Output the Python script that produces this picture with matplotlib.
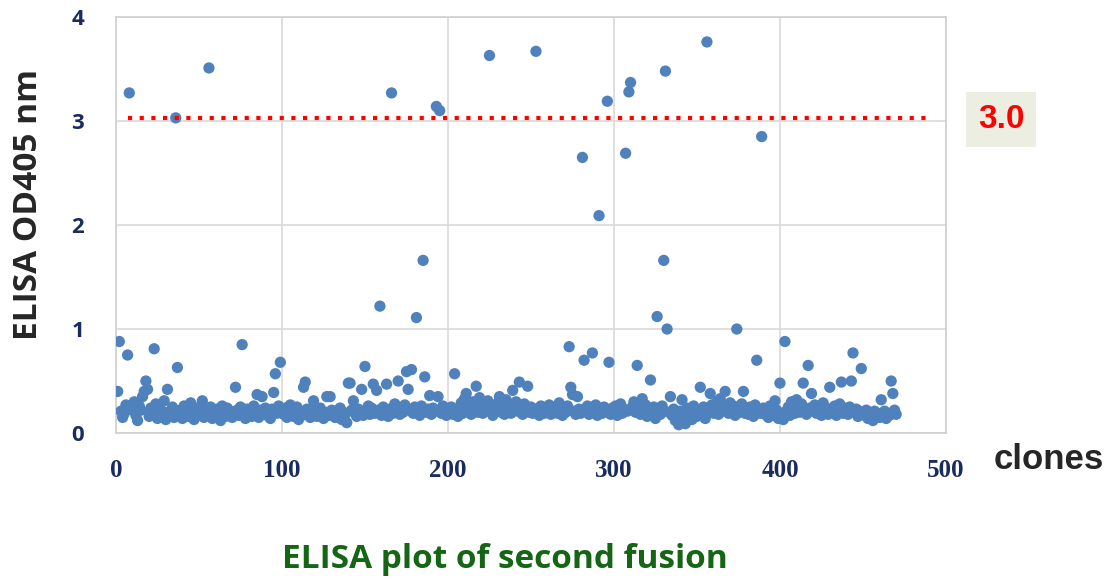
import numpy as np
import matplotlib
matplotlib.use('Agg')
import matplotlib.pyplot as plt

# OD405 readings for clones 1..470 (rows of 10)
od405 = [
    0.40, 0.88, 0.21, 0.15, 0.19, 0.27, 0.75, 3.27, 0.24, 0.22,
    0.30, 0.17, 0.12, 0.26, 0.22, 0.35, 0.40, 0.50, 0.42, 0.16,
    0.24, 0.19, 0.81, 0.28, 0.14, 0.23, 0.18, 0.21, 0.31, 0.13,
    0.42, 0.20, 0.17, 0.25, 0.15, 3.03, 0.63, 0.19, 0.22, 0.14,
    0.26, 0.18, 0.23, 0.16, 0.29, 0.21, 0.13, 0.19, 0.24, 0.17,
    0.20, 0.31, 0.15, 0.22, 0.18, 3.51, 0.25, 0.14, 0.21, 0.17,
    0.23, 0.19, 0.12, 0.26, 0.20, 0.16, 0.24, 0.18, 0.21, 0.15,
    0.19, 0.44, 0.22, 0.17, 0.25, 0.85, 0.20, 0.14, 0.23, 0.18,
    0.21, 0.16, 0.26, 0.19, 0.37, 0.15, 0.22, 0.35, 0.18, 0.24,
    0.17, 0.20, 0.14, 0.23, 0.39, 0.57, 0.19, 0.26, 0.68, 0.21,
    0.18, 0.24, 0.15, 0.22, 0.27, 0.19, 0.16, 0.21, 0.25, 0.13,
    0.20, 0.17, 0.44, 0.49, 0.23, 0.18, 0.15, 0.22, 0.31, 0.19,
    0.16, 0.21, 0.24, 0.18, 0.14, 0.20, 0.35, 0.17, 0.35, 0.22,
    0.19, 0.15, 0.21, 0.17, 0.24, 0.13, 0.20, 0.18, 0.10, 0.48,
    0.48, 0.22, 0.31, 0.19, 0.16, 0.23, 0.20, 0.42, 0.17, 0.64,
    0.21, 0.26, 0.18, 0.24, 0.47, 0.19, 0.41, 0.22, 1.22, 0.17,
    0.25, 0.20, 0.47, 0.16, 0.23, 3.27, 0.19, 0.28, 0.21, 0.50,
    0.18, 0.24, 0.20, 0.27, 0.59, 0.42, 0.22, 0.61, 0.19, 0.25,
    1.11, 0.21, 0.17, 0.26, 1.66, 0.54, 0.20, 0.23, 0.36, 0.18,
    0.24, 0.21, 3.14, 0.35, 3.10, 0.19, 0.26, 0.22, 0.17, 0.23,
    0.20, 0.25, 0.18, 0.57, 0.22, 0.16, 0.24, 0.29, 0.19, 0.33,
    0.38, 0.21, 0.27, 0.18, 0.30, 0.23, 0.45, 0.20, 0.34, 0.25,
    0.19, 0.28, 0.22, 0.31, 3.63, 0.24, 0.17, 0.26, 0.21, 0.29,
    0.35, 0.20, 0.25, 0.18, 0.32, 0.23, 0.27, 0.19, 0.41, 0.24,
    0.30, 0.21, 0.49, 0.26, 0.18, 0.28, 0.22, 0.45, 0.20, 0.25,
    0.19, 0.23, 3.67, 0.21, 0.17, 0.26, 0.22, 0.19, 0.24, 0.20,
    0.27, 0.18, 0.23, 0.21, 0.25, 0.19, 0.29, 0.22, 0.17, 0.24,
    0.20, 0.26, 0.83, 0.44, 0.37, 0.21, 0.18, 0.35, 0.23, 0.19,
    2.65, 0.70, 0.22, 0.26, 0.18, 0.24, 0.77, 0.20, 0.27, 0.17,
    2.09, 0.23, 0.19, 0.25, 0.21, 3.19, 0.68, 0.18, 0.24, 0.20,
    0.26, 0.17, 0.22, 0.28, 0.19, 0.23, 2.69, 0.21, 3.28, 3.37,
    0.25, 0.30, 0.20, 0.65, 0.24, 0.18, 0.33, 0.22, 0.27, 0.16,
    0.21, 0.51, 0.19, 0.25, 0.14, 1.12, 0.22, 0.18, 0.26, 1.66,
    3.48, 1.00, 0.20, 0.35, 0.17, 0.23, 0.12, 0.19, 0.08, 0.21,
    0.32, 0.15, 0.09, 0.24, 0.18, 0.21, 0.13, 0.26, 0.19, 0.16,
    0.22, 0.44, 0.18, 0.25, 0.14, 3.76, 0.21, 0.38, 0.27, 0.19,
    0.24, 0.30, 0.18, 0.33, 0.21, 0.27, 0.40, 0.23, 0.19, 0.29,
    0.22, 0.26, 0.17, 1.00, 0.24, 0.20, 0.28, 0.40, 0.19, 0.23,
    0.18, 0.25, 0.21, 0.16, 0.27, 0.70, 0.22, 0.19, 2.85, 0.24,
    0.18, 0.21, 0.15, 0.26, 0.20, 0.17, 0.31, 0.22, 0.14, 0.48,
    0.19, 0.13, 0.88, 0.21, 0.25, 0.17, 0.30, 0.23, 0.19, 0.32,
    0.26, 0.20, 0.28, 0.48, 0.22, 0.18, 0.65, 0.24, 0.38, 0.21,
    0.27, 0.19, 0.25, 0.22, 0.17, 0.29, 0.21, 0.24, 0.18, 0.44,
    0.23, 0.20, 0.26, 0.17, 0.22, 0.28, 0.49, 0.19, 0.24, 0.21,
    0.18, 0.25, 0.50, 0.77, 0.20, 0.23, 0.16, 0.21, 0.62, 0.19,
    0.17, 0.22, 0.14, 0.20, 0.18, 0.12, 0.21, 0.16, 0.19, 0.15,
    0.32, 0.18, 0.21, 0.14, 0.19, 0.17, 0.50, 0.38, 0.22, 0.18,
]
clones = np.arange(1, len(od405) + 1)

cutoff = 3.03
cutoff_span = [7, 490]
x_ticks = [0, 100, 200, 300, 400, 500]
y_ticks = [0, 1, 2, 3, 4]

fig = plt.figure(figsize=(11.1, 5.8), dpi=100)
ax = fig.add_axes([0.1045, 0.2534, 0.7477, 0.7173])

ax.scatter(clones, od405, s=66, color='#4f81bd', edgecolors='none', zorder=3)
ax.plot(cutoff_span, [cutoff, cutoff], color='#ff0000', linewidth=3,
        linestyle=(0, (1, 1.8)), zorder=4)

ax.set_xlim(0, 500)
ax.set_ylim(0, 4)
ax.set_xticks(x_ticks)
ax.set_yticks(y_ticks)
ax.grid(True, color='#d9d9d9', linewidth=1.2)
ax.set_axisbelow(True)
for spine in ax.spines.values():
    spine.set_color('#d0d0d0')
    spine.set_linewidth(1.2)

ax.tick_params(length=0)
ax.tick_params(axis='y', pad=23)
ax.tick_params(axis='x', pad=19)
for lbl in ax.get_yticklabels():
    lbl.set_fontfamily('Open Sans')
    lbl.set_fontweight('bold')
    lbl.set_fontsize(16)
    lbl.set_color('#1a2c5e')
for lbl in ax.get_xticklabels():
    lbl.set_fontfamily('Liberation Serif')
    lbl.set_fontweight('bold')
    lbl.set_fontsize(18)
    lbl.set_color('#1a2c5e')

fig.text(0.026, 0.647, 'ELISA OD405 nm', rotation=90, ha='center', va='center',
         fontsize=24, fontweight='bold', family='Open Sans', color='#262626')
fig.text(0.945, 0.208, 'clones', ha='center', va='center',
         fontsize=25, fontweight='bold', family='Liberation Sans', color='#262626')
fig.text(0.902, 0.794, '3.0', ha='center', va='center',
         fontsize=24, fontweight='bold', family='Liberation Sans', color='#ff0000',
         bbox=dict(boxstyle='square,pad=0.35', facecolor='#ebeee0', edgecolor='none'))
fig.text(0.455, 0.036, 'ELISA plot of second fusion', ha='center', va='center',
         fontsize=24, fontweight='bold', family='Open Sans', color='#146614')

plt.savefig('out.png', dpi=100, facecolor='white')
